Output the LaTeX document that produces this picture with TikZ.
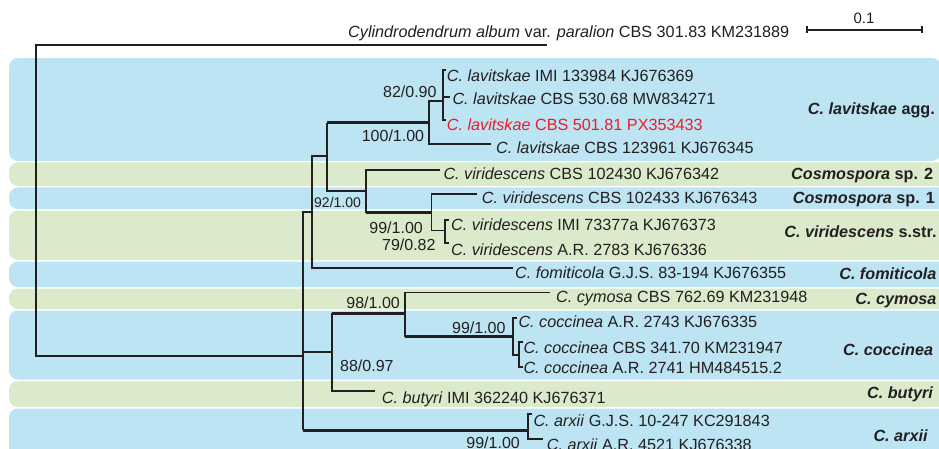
\documentclass[tikz,border=0pt]{standalone}
\usepackage{fontspec}
\setmainfont{Liberation Sans}
\definecolor{bandblue}{RGB}{188,228,243}
\definecolor{bandgreen}{RGB}{220,234,204}
\definecolor{ink}{RGB}{35,31,32}
\definecolor{redlab}{RGB}{237,28,36}
\begin{document}
\begin{tikzpicture}[x=1pt,y=-1pt,
  br/.style={line width=1.2pt, draw=ink},
  thickbr/.style={line width=3pt, draw=ink},
  tip/.style={anchor=base west, inner sep=0pt, text=ink, font=\fontsize{16.2}{19}\selectfont},
  supval/.style={anchor=base east, inner sep=0pt, text=ink, font=\fontsize{16}{19}\selectfont},
  clade/.style={anchor=base east, inner sep=0pt, text=ink, font=\bfseries\fontsize{16.2}{19}\selectfont},
  bandb/.style={fill=bandblue, rounded corners=9pt},
  bandg/.style={fill=bandgreen, rounded corners=9pt}]
\useasboundingbox (0,0) rectangle (939,449);
\clip (0,0) rectangle (939,449);
% background bands
\path[bandb] (9,58) rectangle (941,161);
\path[bandg] (9,162.5) rectangle (960,186);
\path[bandb] (9,187.5) rectangle (960,209);
\path[bandg] (9,210.5) rectangle (960,260);
\path[bandb] (9,261.5) rectangle (960,287);
\path[bandg] (9,288.5) rectangle (960,309);
\path[bandb] (9,310.5) rectangle (960,379.5);
\path[bandg] (9,381) rectangle (960,407);
\path[bandb] (9,408.5) rectangle (960,470);
% tree coordinates
\coordinate (R) at (36,356);
\coordinate (Og) at (547,45);
\coordinate (I) at (303,356);
\coordinate (N1) at (312,212);
\coordinate (A) at (327,156);
\coordinate (L) at (429,122.7);
\coordinate (L2) at (443,101);
\coordinate (V) at (366,191);
\coordinate (V2) at (431.7,212.7);
\coordinate (V3) at (445,230.7);
\coordinate (B) at (332,352);
\coordinate (C) at (405,313);
\coordinate (D) at (513,336.7);
\coordinate (D2) at (519,355);
\coordinate (E) at (528,430);
\coordinate (t1) at (446,70);
\coordinate (t2) at (450,97);
\coordinate (t3) at (446,120);
\coordinate (t4) at (491,144);
\coordinate (t5) at (440,170);
\coordinate (t6) at (477,194);
\coordinate (t7) at (449,220);
\coordinate (t8) at (449,243);
\coordinate (t9) at (513,268);
\coordinate (t10) at (550,292.7);
\coordinate (t11) at (517,318);
\coordinate (t12) at (523,342);
\coordinate (t13) at (523,367);
\coordinate (t14) at (375,391);
\coordinate (t15) at (532,414);
\coordinate (t16) at (543,439);
% branches
\draw[br] (Og) -| (R) -- (I);
\draw[br] (N1) -- (I|-N1) -- (I|-E);
\draw[br] (B) -- (I|-B);
\draw[thickbr] (I|-E) -- (E);
\draw[br] (A) -| (N1) |- (t9);
\draw[thickbr] (A|-L) -- (L);
\draw[br] (A|-L) -- (A|-V) -- (V);
\draw[br] (L2) -| (L) |- (t4);
\draw[br] (t1) -| (L2) |- (t3);
\draw[br] (L2|-t2) -- (t2);
\draw[br] (t5) -| (V) -- (V|-V2);
\draw[thickbr] (V|-V2) -- (V2);
\draw[br] (t6) -| (V2) |- (V3);
\draw[br] (t7) -| (V3) |- (t8);
\draw[thickbr] (B|-C) -- (C);
\draw[br] (B|-C) -- (B) |- (t14);
\draw[br] (t10) -| (C) -- (C|-D);
\draw[thickbr] (C|-D) -- (D);
\draw[br] (t11) -| (D) |- (D2);
\draw[br] (t12) -| (D2) |- (t13);
\draw[br] (t15) -| (E) |- (t16);
% scale bar
\coordinate (s1) at (807,30);
\coordinate (s2) at (922,30);
\draw[br] (s1) -- (s2);
\draw[br] (s1) ++(0,-3.5) -- ++(0,7);
\draw[br] (s2) ++(0,-3.5) -- ++(0,7);
\node[anchor=base, inner sep=0pt, text=ink, font=\fontsize{15}{18}\selectfont] (sl) at (864,23.3) {0.1};
% tip labels
\node[tip] (l0) at (348,37.3) {\textit{Cylindrodendrum album} var. \textit{paralion} CBS 301.83 KM231889};
\node[tip] (l1) at (446.7,82) {\textit{C. lavitskae} IMI 133984 KJ676369};
\node[tip] (l2) at (452.3,105) {\textit{C. lavitskae} CBS 530.68 MW834271};
\node[tip, text=redlab] (l3) at (446.7,130.5) {\textit{C. lavitskae} CBS 501.81 PX353433};
\node[tip] (l4) at (496,154) {\textit{C. lavitskae} CBS 123961 KJ676345};
\node[tip] (l5) at (443.3,180) {\textit{C. viridescens} CBS 102430 KJ676342};
\node[tip] (l6) at (481.7,204) {\textit{C. viridescens} CBS 102433 KJ676343};
\node[tip] (l7) at (451,230) {\textit{C. viridescens} IMI 73377a KJ676373};
\node[tip] (l8) at (451,255) {\textit{C. viridescens} A.R. 2783 KJ676336};
\node[tip] (l9) at (515,278) {\textit{C. fomiticola} G.J.S. 83-194 KJ676355};
\node[tip] (l10) at (556,302.7) {\textit{C. cymosa} CBS 762.69 KM231948};
\node[tip] (l11) at (518.3,327) {\textit{C. coccinea} A.R. 2743 KJ676335};
\node[tip] (l12) at (523.3,353) {\textit{C. coccinea} CBS 341.70 KM231947};
\node[tip] (l13) at (523.3,373) {\textit{C. coccinea} A.R. 2741 HM484515.2};
\node[tip] (l14) at (381.7,403) {\textit{C. butyri} IMI 362240 KJ676371};
\node[tip] (l15) at (533.3,426.7) {\textit{C. arxii} G.J.S. 10-247 KC291843};
\node[tip] (l16) at (546.7,450) {\textit{C. arxii} A.R. 4521 KJ676338};
% support values
\node[supval] (s82) at (436.7,97.5) {82/0.90};
\node[supval] (s100) at (424.3,142) {100/1.00};
\node[anchor=base west, inner sep=0pt, text=ink, font=\fontsize{14}{17}\selectfont] (s92) at (314,207.3) {92/1.00};
\node[supval] (s99a) at (423,233.3) {99/1.00};
\node[supval] (s79) at (435.7,250.7) {79/0.82};
\node[supval] (s98) at (400,308) {98/1.00};
\node[supval] (s99b) at (505.7,333) {99/1.00};
\node[anchor=base west, inner sep=0pt, text=ink, font=\fontsize{16}{19}\selectfont] (s88) at (340,371.7) {88/0.97};
\node[supval] (s99c) at (520,448.8) {99/1.00};
% clade labels
\node[clade] (c1) at (935,115) {\textit{C. lavitskae} agg.};
\node[clade] (c2) at (933.3,179) {\textit{Cosmospora} sp. 2};
\node[clade] (c3) at (935,204) {\textit{Cosmospora} sp. 1};
\node[clade] (c4) at (936.7,237.7) {\textit{C. viridescens} s.str.};
\node[clade] (c5) at (936.7,279) {\textit{C. fomiticola}};
\node[clade] (c6) at (936.7,304) {\textit{C. cymosa}};
\node[clade] (c7) at (933.3,355) {\textit{C. coccinea}};
\node[clade] (c8) at (933.3,398) {\textit{C. butyri}};
\node[clade] (c9) at (928,441.7) {\textit{C. arxii}};
\end{tikzpicture}
\end{document}
